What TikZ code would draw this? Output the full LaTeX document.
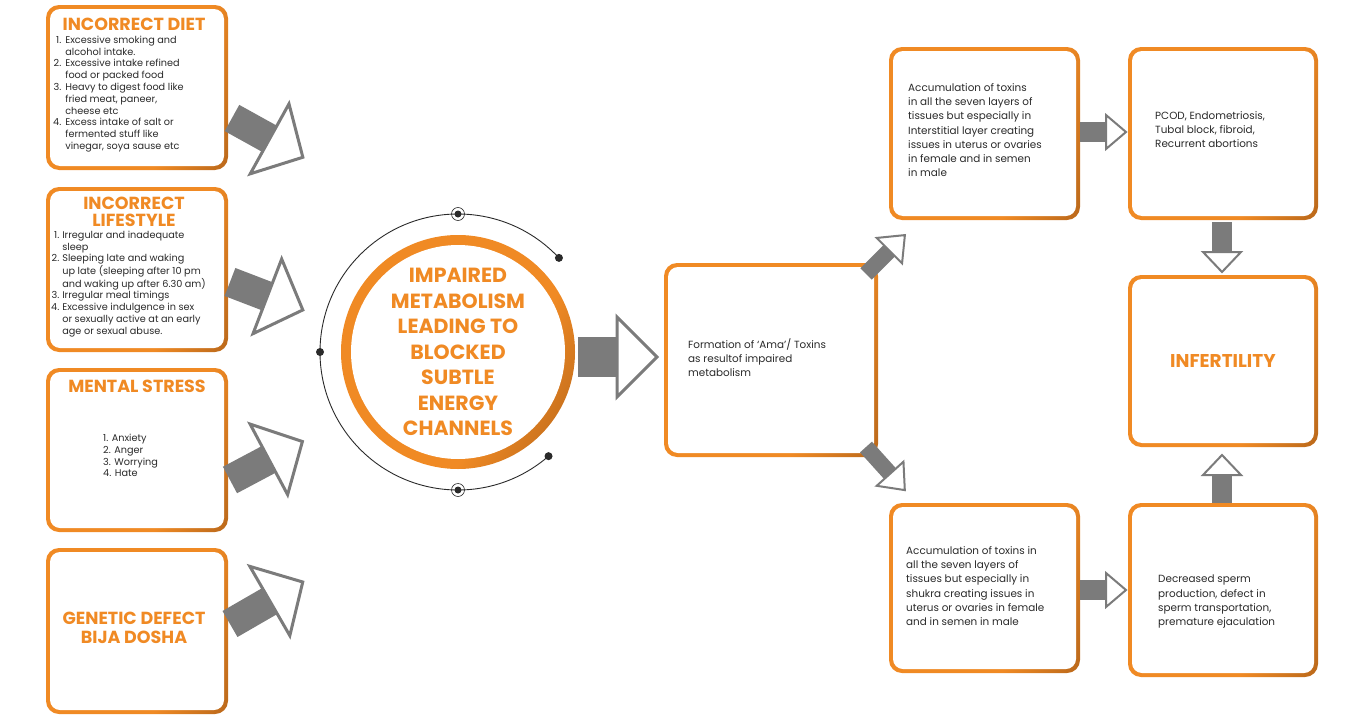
\documentclass[tikz,border=0pt]{standalone}
\usepackage{fontspec}
\setmainfont{Poppins}
\usetikzlibrary{calc}
\definecolor{org}{HTML}{F08A24}
\definecolor{brn}{HTML}{8A4A12}
\definecolor{ag}{HTML}{7B7B7B}
\definecolor{txt}{HTML}{2A2A2A}
\pgfdeclarehorizontalshading{ob}{100bp}{color(0bp)=(org); color(62bp)=(org); color(100bp)=(brn)}
\newcommand\obox[5]{%
  \shade[rounded corners=13pt, shading=ob, shading angle=-20] (#2,#3) rectangle (#4,#5);
  \fill[white, rounded corners=10pt] ($(#2,#3)+(4,4)$) rectangle ($(#4,#5)+(-4,-4)$);
  \coordinate (#1) at ($(#2,#3)!0.5!(#4,#5)$);}
\tikzset{
  head/.style={text=org, font=\fontsize{17.5}{19.5}\selectfont\bfseries, align=center, inner sep=0},
  body/.style={text=txt, font=\fontsize{9.7}{12.8}\selectfont, align=left, inner sep=0, anchor=north west},
  rbody/.style={text=txt, font=\fontsize{10.4}{14.3}\selectfont, align=left, inner sep=0, anchor=north west},
  pics/fat/.style n args={5}{code={
    \fill[ag] (0,-#2/2) rectangle (#1-#4+1,#2/2);
    \draw[ag, line width=#5, fill=white, line join=miter] (#1-#4,-#3) -- (#1,0) -- (#1-#4,#3) -- cycle;}}
}
\begin{document}
\begin{tikzpicture}[x=1pt,y=-1pt]
\useasboundingbox (0,0) rectangle (1350,720);
% left boxes
\obox{b1}{46}{5}{228}{170}
\obox{b2}{46}{187}{228}{352}
\obox{b3}{46}{368}{228}{532}
\obox{b4}{46}{548}{228}{714}
\node[head] (h1) at (134,24) {INCORRECT DIET};
\node[body] (t1) at (53,35) {\def\arraystretch{0.92}\begin{tabular}{@{}r@{\hspace{4pt}}l@{}}
1.&Excessive smoking and\\ &alcohol intake.\\
2.&Excessive intake refined\\ &food or packed food\\
3.&Heavy to digest food like\\ &fried meat, paneer,\\ &cheese etc\\
4.&Excess intake of salt or\\ &fermented stuff like\\ &vinegar, soya sause etc\end{tabular}};
\node[head] (h2) at (134,212) {INCORRECT\\[-2pt]LIFESTYLE};
\node[body] (t2) at (51,230) {\def\arraystretch{0.92}\begin{tabular}{@{}r@{\hspace{3pt}}l@{}}
1.&Irregular and inadequate\\ &sleep\\
2.&Sleeping late and waking\\ &up late (sleeping after 10 pm\\ &and waking up after 6.30 am)\\
3.&Irregular meal timings\\
4.&Excessive indulgence in sex\\ &or sexually active at an early\\ &age or sexual abuse.\end{tabular}};
\node[head] (h3) at (137,386) {MENTAL STRESS};
\node[body] (t3) at (103,433) {\def\arraystretch{0.92}\begin{tabular}{@{}l@{}}1. Anxiety\\2. Anger\\3. Worrying\\4. Hate\end{tabular}};
\node[head] (h4) at (134,628) {GENETIC DEFECT\\[-1pt]BIJA DOSHA};
% left arrows
\pic[rotate=-29] at (232,118) {fat={81}{30}{40}{38}{3pt}};
\pic[rotate=-21] at (230,282) {fat={78}{30}{40}{38}{3pt}};
\pic[rotate=28] at (230,480) {fat={82}{30}{40}{38}{3pt}};
\pic[rotate=30] at (230,624) {fat={84}{30}{40}{38}{3pt}};
% central circle
\coordinate (c) at (458,352);
\draw[txt, line width=0.9pt] (c) ++(-43:138) arc[start angle=-43, end angle=-311, radius=138];
\foreach \a in {-43,180,49} \fill[txt] (c) ++(\a:138) circle (4);
\foreach \a in {-90,90} {\fill[txt] (c) ++(\a:138) circle (3.5); \draw[txt, line width=0.6pt] (c) ++(\a:138) circle (6.5);}
\shade[shading=ob, shading angle=-30] (c) circle (117);
\fill[white] (c) circle (107);
\node[head, font=\fontsize{20.5}{25.5}\selectfont\bfseries] (cc) at (c) {IMPAIRED\\METABOLISM\\LEADING TO\\BLOCKED\\SUBTLE\\ENERGY\\CHANNELS};
\pic at (578,357) {fat={79}{40}{40}{40}{3pt}};
% middle box
\obox{m}{664}{263}{878}{457}
\node[rbody] (mt) at (688,338) {Formation of ‘Ama’/ Toxins\\as resultof impaired\\metabolism};
\pic[rotate=45] at (866,274) {fat={55}{16}{18}{22}{2pt}};
\pic[rotate=-48] at (866,447) {fat={58}{16}{18}{22}{2pt}};
% right boxes
\obox{r1}{889}{47}{1080}{220}
\node[rbody] (r1t) at (908,83) {Accumulation of toxins\\in all the seven layers of\\tissues but especially in\\Interstitial layer creating\\issues in uterus or ovaries\\in female and in semen\\in male};
\obox{r2}{1128}{47}{1318}{220}
\node[rbody] (r2t) at (1155,111) {PCOD, Endometriosis,\\Tubal block, fibroid,\\Recurrent abortions};
\obox{r3}{1128}{275}{1318}{447}
\node[head, font=\fontsize{18.5}{20}\selectfont\bfseries] (inf) at (r3) {INFERTILITY};
\obox{r4}{889}{503}{1080}{673}
\node[rbody] (r4t) at (906,546) {Accumulation of toxins in\\all the seven layers of\\tissues but especially in\\shukra creating issues in\\uterus or ovaries in female\\and in semen in male};
\obox{r5}{1128}{503}{1318}{677}
\node[rbody] (r5t) at (1158,575) {Decreased sperm\\production, defect in\\sperm transportation,\\premature ejaculation};
\pic at (1080,132) {fat={46}{20}{17}{20}{2pt}};
\pic at (1080,590) {fat={46}{20}{17}{20}{2pt}};
\pic[rotate=-90] at (1222,222) {fat={50}{20}{19}{20}{2pt}};
\pic[rotate=90] at (1222,503) {fat={48}{20}{19}{20}{2pt}};
\end{tikzpicture}
\end{document}
